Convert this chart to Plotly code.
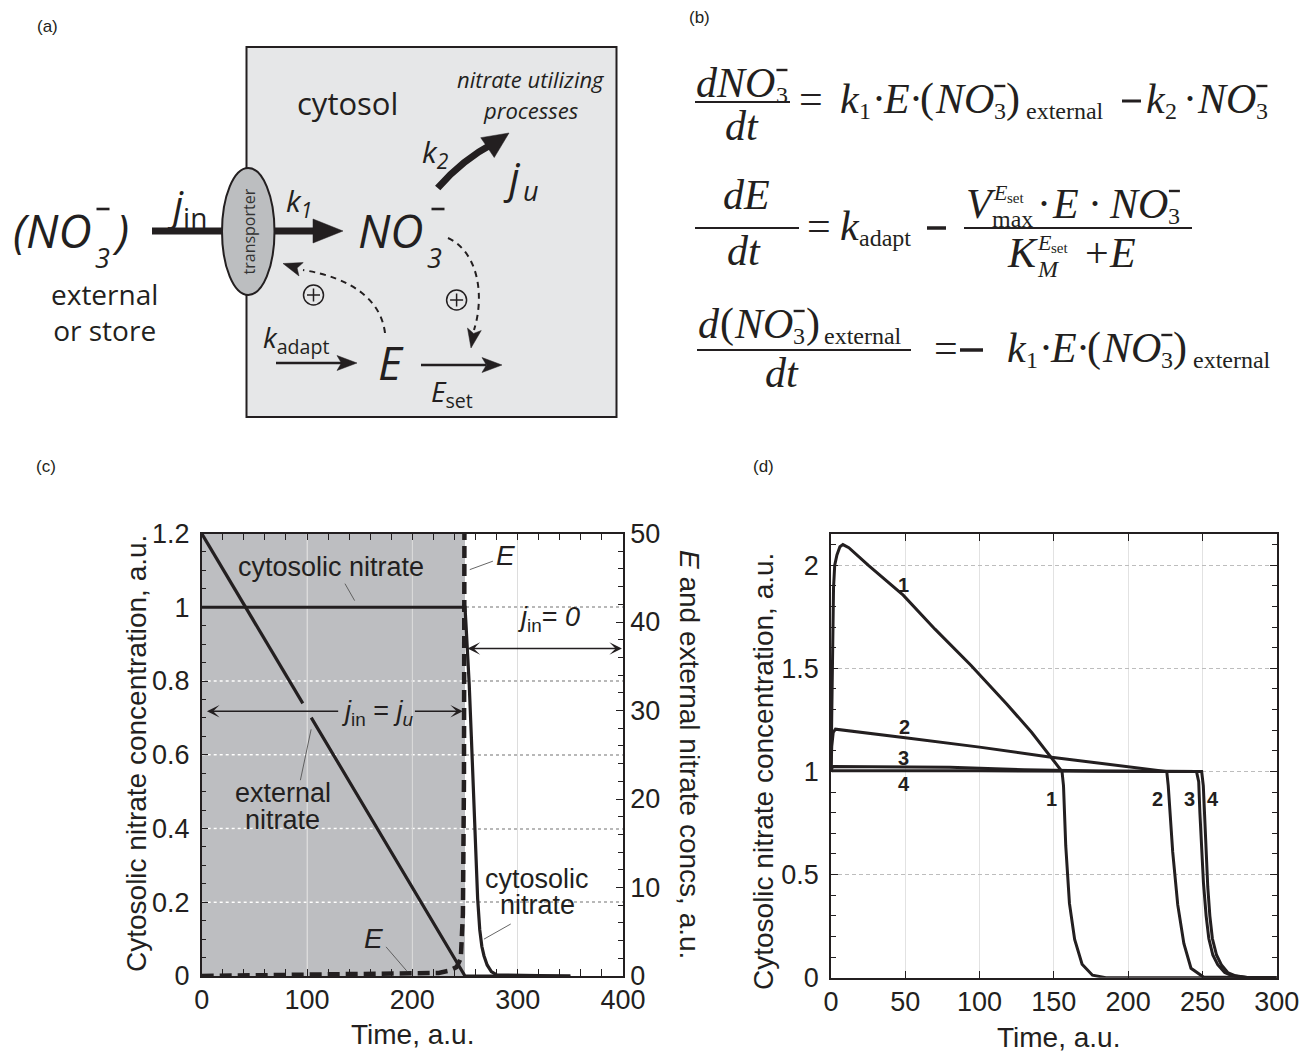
import math
import plotly.graph_objects as go

W, H = 1299, 1052
INK = "#231f20"
SANS = "Liberation Sans"
SERIF = "Liberation Serif"
DIAG = "Open Sans"

# ---------------- panel (c) data ----------------
time_cyt = [0, 250, 251, 252, 253, 254, 256, 258, 260, 262, 264, 266, 268, 271, 275, 280, 350]
nitrate_cyt = [1.0, 1.0, 0.95, 0.90, 0.85, 0.79, 0.65, 0.49, 0.34, 0.21, 0.125, 0.08, 0.055, 0.03, 0.012, 0.003, 0.0]
time_ext = [0, 96, None, 104, 250, 350]
nitrate_ext = [50, 30.8, None, 29.2, 0, 0]
time_E = [0, 50, 100, 150, 200, 225, 235, 242, 246, 248, 249, 249.6]
E_vals = [0.0, 0.05, 0.1, 0.15, 0.2, 0.35, 0.6, 1.0, 2.0, 7.0, 22.0, 60.0]
c_xticks = [0, 100, 200, 300, 400]
c_yticks = [0, 0.2, 0.4, 0.6, 0.8, 1.0, 1.2]
c_y2ticks = [0, 10, 20, 30, 40, 50]

# ---------------- panel (d) data ----------------
t1 = [0, 0.5, 1, 1.7, 2.5, 4, 6, 8, 12, 25, 48.6, 70, 94.3, 118.4, 135, 142.4, 149.6, 154.4,
      155.5, 156.5, 158, 160.5, 164, 169, 176, 185, 300]
c1 = [1.0, 1.3, 1.6, 1.89, 2.0, 2.05, 2.09, 2.10, 2.085, 2.0, 1.855, 1.69, 1.514, 1.326, 1.19, 1.121, 1.053, 1.01,
      1.0, 0.93, 0.64, 0.36, 0.185, 0.065, 0.012, 0.0, 0.0]
t2 = [0, 0.5, 1.5, 3, 50, 100, 147, 200, 224, 226, 227, 228.5, 230, 233.4, 237.5, 242.3, 250.7, 300]
c2 = [1.0, 1.12, 1.19, 1.205, 1.164, 1.118, 1.07, 1.023, 1.0, 1.0, 0.93, 0.78, 0.61, 0.353, 0.166, 0.046, 0.003, 0.0]
t3 = [0, 0.5, 1.5, 50, 80, 130, 180, 246, 247.5, 248.3, 249.5, 250.7, 252.5, 254.3, 257, 260.3, 265, 270, 280, 300]
c3 = [1.0, 1.015, 1.024, 1.022, 1.02, 1.008, 1.002, 1.0, 0.95, 0.80, 0.62, 0.46, 0.30, 0.19, 0.11, 0.063, 0.025, 0.009, 0.001, 0.0]
t4 = [0, 0.5, 100, 249.5, 250.6, 251.4, 252.5, 253.6, 255, 256.7, 259.5, 262.7, 267, 272.3, 280, 300]
c4 = [1.0, 1.004, 1.003, 1.0, 0.93, 0.78, 0.60, 0.44, 0.30, 0.19, 0.11, 0.063, 0.025, 0.009, 0.001, 0.0]
d_labels = ["1", "2", "3", "4", "1", "2", "3", "4"]
d_label_t = [48.6, 49.8, 49, 49, 148.4, 220, 241.5, 257.2]
d_label_y = [1.906, 1.215, 1.067, 0.937, 0.865, 0.865, 0.865, 0.865]
d_xticks = [0, 50, 100, 150, 200, 250, 300]
d_yticks = [0, 0.5, 1, 1.5, 2]

fig = go.Figure()
fig.add_trace(go.Scatter(x=time_cyt, y=nitrate_cyt, xaxis="x", yaxis="y", mode="lines",
                         line=dict(color=INK, width=3.2), showlegend=False, hoverinfo="skip"))
fig.add_trace(go.Scatter(x=time_ext, y=nitrate_ext, xaxis="x", yaxis="y2", mode="lines",
                         line=dict(color=INK, width=3.2), showlegend=False, hoverinfo="skip", connectgaps=False))
fig.add_trace(go.Scatter(x=time_E, y=E_vals, xaxis="x", yaxis="y2", mode="lines",
                         line=dict(color=INK, width=4.5, dash="12px,6px"), showlegend=False, hoverinfo="skip"))
for tt, cc in [(t1, c1), (t2, c2), (t3, c3), (t4, c4)]:
    fig.add_trace(go.Scatter(x=tt, y=cc, xaxis="x2", yaxis="y3", mode="lines",
                             line=dict(color=INK, width=3), showlegend=False, hoverinfo="skip"))

shapes = []
annotations = []


def pt(x, y):
    return f"{x / W:.5f},{1 - y / H:.5f}"


def seg(x0, y0, x1, y1, w, color=INK, dash="solid"):
    shapes.append(dict(type="line", xref="paper", yref="paper", x0=x0 / W, y0=1 - y0 / H,
                       x1=x1 / W, y1=1 - y1 / H, line=dict(color=color, width=w, dash=dash), layer="above"))


def curve(pts, w, dash="solid"):
    p = "M " + pt(*pts[0]) + " C " + " ".join(pt(*q) for q in pts[1:])
    shapes.append(dict(type="path", xref="paper", yref="paper", path=p,
                       line=dict(color=INK, width=w, dash=dash), layer="above"))


def head(tip, direction, L, w, barb=0.22):
    dx, dy = direction
    n = math.hypot(dx, dy)
    dx, dy = dx / n, dy / n
    qx, qy = -dy, dx
    tx, ty = tip
    b1 = (tx - L * dx + w * qx, ty - L * dy + w * qy)
    b2 = (tx - L * dx - w * qx, ty - L * dy - w * qy)
    m = (tx - (1 - barb) * L * dx, ty - (1 - barb) * L * dy)
    p = "M " + pt(tx, ty) + " L " + pt(*b1) + " L " + pt(*m) + " L " + pt(*b2) + " Z"
    shapes.append(dict(type="path", xref="paper", yref="paper", path=p, fillcolor=INK,
                       line=dict(color=INK, width=0.5), layer="above"))


def T(px, py, text, size, family=DIAG, xa="center", ya="middle", angle=0, color=INK):
    annotations.append(dict(xref="paper", yref="paper", x=px / W, y=1 - py / H, text=text, showarrow=False,
                            font=dict(family=family, size=size, color=color), xanchor=xa, yanchor=ya,
                            textangle=angle, borderpad=0))


def S(px, base, text, size, xa="left"):
    T(px, base - 0.3375 * size, text, size, SERIF, xa)


def msup(cx, cy, L=11, w=2.4):
    seg(cx - L / 2, cy, cx + L / 2, cy, w)


# Times-compatible advance widths (em) for laying out the equation glyph runs
IT = {"d": .5, "N": .667, "O": .722, "E": .611, "k": .444, "t": .278, "V": .611, "K": .667, "M": .833}
RM = {"0": .5, "1": .5, "2": .5, "3": .5, "·": .25, "(": .333, ")": .333, "=": .564, "+": .564,
      "a": .444, "d": .5, "e": .444, "l": .278, "m": .778, "n": .5, "p": .5, "r": .333, "s": .389,
      "t": .278, "x": .5}
BIG, SMALL = 42, 24


def run(x, base, toks):
    last = None
    for tok in toks:
        kind = tok[0]
        if kind == "gap":
            x += tok[1]
            continue
        if kind == "minus":
            msup(last[0] + last[1] / 2 + 1, base - 27)
            continue
        s = tok[1]
        italic = kind in ("i", "subi")
        sub = kind in ("sub", "subi")
        size = SMALL if sub else BIG
        b = base + 6 if sub else base
        S(x, b, ("<i>" + s + "</i>") if italic else s, size)
        w = sum((IT if italic else RM)[ch] for ch in s) * size
        if sub:
            last = (x, w)
        x += w + 0.6
    return x


def center_run(cx, base, s):
    S(cx, base, "<i>" + s + "</i>", BIG, xa="center")


MAIN = [("i", "k"), ("sub", "1"), ("r", "·"), ("i", "E"), ("r", "·"), ("r", "("), ("i", "NO"), ("sub", "3"),
        ("minus",), ("r", ")"), ("gap", 5), ("sub", "external")]

# ---------------- panel labels ----------------
T(47, 27, "(a)", 17, SANS)
T(699, 18, "(b)", 17, SANS)
T(46, 466, "(c)", 17, SANS)
T(763, 466, "(d)", 17, SANS)

# ---------------- panel (a) diagram ----------------
shapes.append(dict(type="rect", xref="paper", yref="paper", x0=246.5 / W, x1=616.5 / W,
                   y0=1 - 417 / H, y1=1 - 47 / H, fillcolor="#e6e7e8", line=dict(color=INK, width=2), layer="below"))
seg(152, 231, 224, 231, 7)
shapes.append(dict(type="circle", xref="paper", yref="paper", x0=222 / W, x1=274.5 / W,
                   y0=1 - 295 / H, y1=1 - 168 / H, fillcolor="#bcbec0", line=dict(color=INK, width=2), layer="above"))
T(248.5, 232, "transporter", 16, DIAG, angle=-90, color="#333333")
seg(274.5, 231, 320, 231, 7)
head((343, 231), (1, 0), 30, 12, barb=0.0)
curve([(437.7, 188), (455, 168), (475, 153), (494, 143)], 7)
head((509, 133), (1, -0.68), 26, 12, barb=0.0)
curve([(448, 238), (478, 252), (485, 295), (474, 330)], 2, "6px,5px")
head((471, 348), (-0.18, 1), 19, 7)
curve([(385, 333), (381, 300), (352, 278), (303, 270)], 2, "6px,5px")
head((283, 263.5), (-1, -0.32), 19, 7)
for cx, cy in [(313.5, 295), (456.6, 300)]:
    shapes.append(dict(type="circle", xref="paper", yref="paper", x0=(cx - 10) / W, x1=(cx + 10) / W,
                       y0=1 - (cy + 10) / H, y1=1 - (cy - 10) / H, line=dict(color=INK, width=1.5), layer="above"))
    seg(cx - 6.5, cy, cx + 6.5, cy, 1.5)
    seg(cx, cy - 6.5, cx, cy + 6.5, 1.5)
seg(276, 363, 342, 363, 2.5)
head((357, 363), (1, 0), 20, 7.5)
seg(421, 365, 486, 365, 2.5)
head((502, 365), (1, 0), 20, 7.5)

T(347, 103, "cytosol", 31)
T(531, 79, "<i>nitrate utilizing</i>", 22)
T(531, 110, "<i>processes</i>", 22)
T(435, 153, "<i>k<sub>2</sub></i>", 30)
T(512, 176, "<i>j</i>", 42)
T(531, 191, "<i>u</i>", 27)
T(12, 230, "<i>(NO</i>", 46, xa="left")
T(102, 258, "<i>3</i>", 27)
msup(103, 209, L=13, w=2.6)
T(111, 230, "<i>)</i>", 46, xa="left")
T(104, 311.5, "external<br>or store", 28)
T(187, 206, "<i>j</i><sub>in</sub>", 40)
T(299, 202, "<i>k<sub>1</sub></i>", 30)
T(357, 230, "<i>NO</i>", 46, xa="left")
T(434, 258, "<i>3</i>", 27)
msup(438, 209, L=13, w=2.6)
T(296, 339, "<i>k</i><sub>adapt</sub>", 28)
T(391, 362, "<i>E</i>", 46)
T(452, 393, "<i>E</i><sub>set</sub>", 28)

# ---------------- panel (b) equations ----------------
def bar(x0, x1, y):
    seg(x0, y, x1, y, 2)


# eq 1
run(695, 97, [("i", "dNO"), ("sub", "3"), ("minus",)])
bar(695, 790, 102)
center_run(742, 140, "dt")
run(798, 113, [("r", "=")])
run(839, 113, MAIN)
seg(1122, 101, 1141, 101, 3)
run(1145, 113, [("i", "k"), ("sub", "2"), ("gap", 5), ("r", "·"), ("gap", 3), ("i", "NO"), ("sub", "3"), ("minus",)])

# eq 2
center_run(746, 209, "dE")
bar(695, 799, 228)
center_run(744, 265, "dt")
run(806, 240, [("r", "=")])
run(839, 240, [("i", "k"), ("sub", "adapt")])
seg(927, 228, 946, 228, 3.5)
run(965, 218, [("i", "V")])
S(992, 200, "<i>E</i>", 22)
S(1006, 203, "set", 15)
S(991, 227, "max", 24)
run(1036, 218, [("r", "·"), ("gap", 4), ("i", "E"), ("gap", 10), ("r", "·"), ("gap", 10), ("i", "NO"),
                ("sub", "3"), ("minus",)])
bar(964, 1192, 228)
run(1006, 267, [("i", "K")])
S(1036, 250, "<i>E</i>", 22)
S(1050, 253, "set", 15)
S(1036, 277, "<i>M</i>", 24)
run(1084, 267, [("r", "+"), ("i", "E")])

# eq 3
run(697, 338, [("i", "d"), ("r", "("), ("i", "NO"), ("sub", "3"), ("minus",), ("r", ")"), ("gap", 4),
               ("sub", "external")])
bar(697, 911, 350)
center_run(782, 387, "dt")
run(933, 362, [("r", "=")])
seg(960, 350, 983, 350, 3.5)
run(1006, 362, MAIN)

# ---------------- panel (c) decorations ----------------
shapes.append(dict(type="rect", xref="x", yref="y", x0=0, x1=250, y0=0, y1=1.2,
                   fillcolor="#bdbec1", line=dict(width=0), layer="below"))
for yv in [0.2, 0.4, 0.6, 0.8, 1.0]:
    shapes.append(dict(type="line", xref="x", yref="y", x0=0, x1=250, y0=yv, y1=yv,
                       line=dict(color="white", width=1.5, dash="dot"), layer="between"))
for xv in [100, 200]:
    shapes.append(dict(type="line", xref="x", yref="y", x0=xv, x1=xv, y0=0, y1=1.2,
                       line=dict(color="#d8d8d8", width=1), layer="between"))


def leader(x0, y0, x1, y1):
    shapes.append(dict(type="line", xref="x", yref="y", x0=x0, y0=y0, x1=x1, y1=y1,
                       line=dict(color="#555555", width=0.9), layer="above"))


leader(136, 1.064, 145.2, 1.018)
leader(276.5, 1.125, 254.5, 1.102)
leader(93.7, 0.531, 103.9, 0.669)
leader(175, 0.079, 194.6, 0.014)
leader(293.4, 0.141, 268, 0.1)


def dT(x, y, text, size=27, xref="x", yref="y", bold=False):
    annotations.append(dict(xref=xref, yref=yref, x=x, y=y, text=("<b>" + text + "</b>") if bold else text,
                            showarrow=False, font=dict(family=SANS, size=size, color=INK),
                            xanchor="center", yanchor="middle"))


def arrow(xh, yh, xt, yt, both=False):
    annotations.append(dict(xref="x", yref="y", x=xh, y=yh, ax=xt, ay=yt, axref="x", ayref="y", text="",
                            showarrow=True, arrowhead=3, startarrowhead=3, arrowsize=1.4, startarrowsize=1.4,
                            arrowwidth=1.5, arrowcolor=INK, arrowside="end+start" if both else "end",
                            standoff=0, startstandoff=0))


dT(122.5, 1.108, "cytosolic nitrate")
dT(288, 1.14, "<i>E</i>", 28)
dT(329, 0.969, "<i>j</i><sub>in</sub>= <i>0</i>")
arrow(399, 0.888, 251, 0.888, both=True)
arrow(5, 0.718, 131, 0.718)
arrow(248, 0.718, 201, 0.718)
dT(166.5, 0.712, "<i>j</i><sub>in</sub> = <i>j<sub>u</sub></i>")
dT(76.8, 0.496, "external")
dT(76.8, 0.423, "nitrate")
dT(163, 0.103, "<i>E</i>", 28)
dT(318.8, 0.263, "cytosolic")
dT(318.8, 0.193, "nitrate")

for lab, tx, ty in zip(d_labels, d_label_t, d_label_y):
    dT(tx, ty, lab, 20, xref="x2", yref="y3", bold=True)

# axis titles
T(412, 1034, "Time, a.u.", 28, SANS)
T(136, 754, "Cytosolic nitrate concentration, a.u.", 28, SANS, angle=-90)
T(690, 755, "<i>E</i> and external nitrate concs, a.u.", 28, SANS, angle=90)
T(1058, 1037, "Time, a.u.", 28, SANS)
T(764, 772, "Cytosolic nitrate concentration, a.u.", 28, SANS, angle=-90)

tickfont = dict(family=SANS, size=27, color=INK)
common = dict(showline=True, linecolor=INK, linewidth=1.5, ticks="inside", tickcolor=INK, tickwidth=1.2,
              ticklen=7, tickfont=tickfont, zeroline=False, automargin=False, ticklabeloverflow="allow")

fig.update_layout(
    template="none",
    width=W, height=H, margin=dict(l=0, r=0, t=0, b=0, pad=0, autoexpand=False), autosize=False,
    paper_bgcolor="white", plot_bgcolor="white", showlegend=False,
    xaxis=dict(domain=[201.7 / W, 623 / W], range=[0, 400], tickvals=c_xticks, anchor="y",
               mirror="allticks", showgrid=True, gridcolor="#dddddd", gridwidth=1,
               minor=dict(dtick=20, tick0=0, ticks="inside", ticklen=5, tickcolor=INK, showgrid=False),
               ticklabelstandoff=-1, **common),
    yaxis=dict(domain=[1 - 976 / H, 1 - 533.5 / H], range=[0, 1.2], tickvals=c_yticks, anchor="x",
               showgrid=True, gridcolor="#b8b8b8", gridwidth=1.5, griddash="dot",
               minor=dict(dtick=0.05, tick0=0, ticks="inside", ticklen=5, tickcolor=INK, showgrid=False),
               ticklabelstandoff=5, **common),
    yaxis2=dict(overlaying="y", side="right", range=[0, 50], tickvals=c_y2ticks, anchor="x",
                showgrid=False,
                minor=dict(dtick=2, tick0=0, ticks="inside", ticklen=5, tickcolor=INK, showgrid=False),
                ticklabelstandoff=0, **common),
    xaxis2=dict(domain=[831 / W, 1276.7 / W], range=[0, 300], tickvals=d_xticks, anchor="y3",
                mirror="allticks", showgrid=True, gridcolor="#e2e2e2", gridwidth=1,
                ticklabelstandoff=-1, **common),
    yaxis3=dict(domain=[1 - 977.7 / H, 1 - 534.3 / H], range=[0, 2.15], tickvals=d_yticks, anchor="x2",
                mirror="allticks", showgrid=True, gridcolor="#bdbdbd", gridwidth=1, griddash="4px,3px",
                minor=dict(dtick=0.1, tick0=0, ticks="inside", ticklen=5, tickcolor=INK, showgrid=False),
                ticklabelstandoff=5, **common),
    shapes=shapes, annotations=annotations,
)

post = ("document.documentElement.style.margin='0';document.body.style.margin='0';"
        "document.documentElement.style.overflow='hidden';document.body.style.overflow='hidden';"
        "var g=document.getElementById('{plot_id}');g.style.position='fixed';g.style.left='0px';g.style.top='0px';")
fig.write_html("out.html", config={"displayModeBar": False}, post_script=post)
